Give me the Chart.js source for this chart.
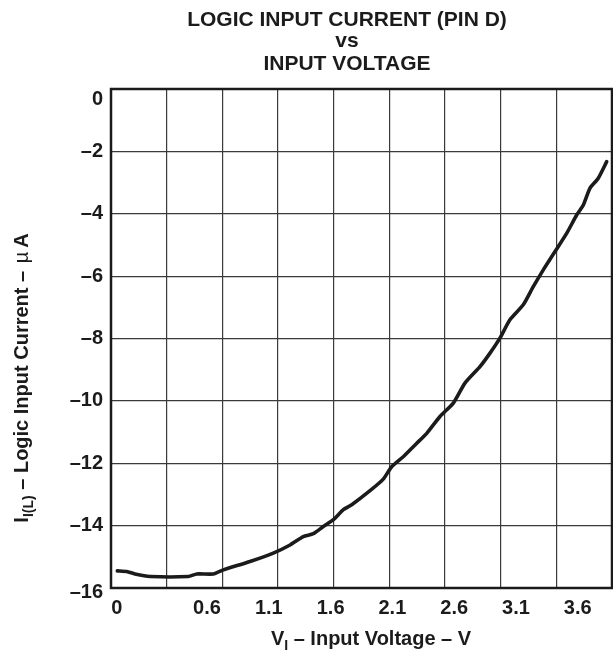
<!DOCTYPE html>
<html>
<head>
<meta charset="utf-8">
<script src="https://cdn.jsdelivr.net/npm/chart.js@4/dist/chart.umd.min.js"></script>
<style>
  html, body { margin: 0; padding: 0; background: #fff; }
  canvas { display: block; }
</style>
</head>
<body>
<canvas id="c" width="613" height="650"></canvas>
<script>
/* Logic input current (pin D) vs input voltage. */

// curve: V_I in volts, I_I(L) in microamps
var CURVE_V = [-0.126, -0.050, 0.017, 0.139, 0.449, 0.517, 0.651, 0.732, 0.948, 1.136,
  1.272, 1.379, 1.460, 1.541, 1.622, 1.703, 1.771, 1.919, 2.026, 2.094,
  2.188, 2.297, 2.378, 2.485, 2.593, 2.687, 2.809, 2.890, 2.970, 3.051,
  3.159, 3.240, 3.321, 3.416, 3.510, 3.591, 3.645, 3.699, 3.766, 3.834];
var CURVE_I = [-15.45, -15.47, -15.55, -15.63, -15.63, -15.55, -15.55, -15.42, -15.15, -14.88,
  -14.62, -14.35, -14.26, -14.03, -13.81, -13.49, -13.33, -12.88, -12.51, -12.11,
  -11.79, -11.36, -11.04, -10.50, -10.07, -9.43, -8.90, -8.47, -7.99, -7.40,
  -6.92, -6.34, -5.80, -5.21, -4.63, -4.04, -3.72, -3.18, -2.86, -2.33];

// x axis: the printed labels don't sit on the grid lines, so they get their own spots
var X_MIN = -0.177, X_MAX = 3.877, X_DIVS = 9;
var X_TICK_TEXT = ['0', '0.6', '1.1', '1.6', '2.1', '2.6', '3.1', '3.6'];
var X_TICK_AT = [-0.13, 0.6, 1.1, 1.6, 2.1, 2.6, 3.1, 3.6];

// y axis
var Y_MIN = -16, Y_MAX = 0, Y_STEP = 2;
var Y_TICK_TEXT = ['0', '\u20132', '\u20134', '\u20136', '\u20138', '\u201310', '\u201312', '\u201314', '\u201316'];
var Y_TICK_AT = [-0.33, -2, -4, -6, -8, -10, -12, -14, -16.14];

var TITLE = ['LOGIC INPUT CURRENT (PIN D)', 'vs', 'INPUT VOLTAGE'];

var FONT = "'Liberation Sans', Arial, Helvetica, sans-serif";
var INK = '#1b1b1b';
var GRID = '#3a3a3a';

/* grid lines and labels live on the same scale: grid ticks carry no text,
   label ticks carry no line */
function mixTicks(gridVals, labelAt, labelText) {
  var t = [];
  gridVals.forEach(function (v) { t.push({ value: v, txt: '', grid: true }); });
  labelAt.forEach(function (v, i) { t.push({ value: v, txt: labelText[i], grid: false }); });
  t.sort(function (a, b) { return a.value - b.value; });
  return t;
}

var xGrid = [], yGrid = [];
for (var k = 0; k <= X_DIVS; k++) xGrid.push(X_MIN + k * (X_MAX - X_MIN) / X_DIVS);
for (var v = Y_MIN; v <= Y_MAX; v += Y_STEP) yGrid.push(v);

function gridColor(ctx) { return ctx.tick && ctx.tick.grid ? GRID : 'rgba(0,0,0,0)'; }
function gridWidth(ctx) { return ctx.tick && ctx.tick.grid ? 1.2 : 0; }

// draw a run of text pieces (for the subscripts) centred on cx
function runText(g, pieces, cx, baseline) {
  var total = 0;
  pieces.forEach(function (p) { g.font = p.font; p.w = g.measureText(p.t).width; total += p.w + (p.gap || 0); });
  var x = cx - total / 2;
  pieces.forEach(function (p) {
    g.font = p.font;
    g.fillText(p.t, x, baseline + (p.dy || 0));
    x += p.w + (p.gap || 0);
  });
}

var frameAndText = {
  id: 'frameAndText',
  beforeDatasetsDraw: function (c) {
    var a = c.chartArea, g = c.ctx;
    g.save();
    g.strokeStyle = INK;
    g.lineWidth = 2.5;
    g.strokeRect(a.left, a.top, a.right - a.left, a.bottom - a.top);
    g.restore();
  },
  afterDraw: function (c) {
    var g = c.ctx;
    g.save();
    g.fillStyle = INK;
    g.textAlign = 'left';
    g.textBaseline = 'alphabetic';
    var B = 'bold 20px ' + FONT, S = 'bold 14px ' + FONT;

    // main title
    var ys = [26, 47, 69.5];
    TITLE.forEach(function (line, i) { runText(g, [{ t: line, font: 'bold 21px ' + FONT }], 347, ys[i]); });

    // x title
    runText(g, [
      { t: 'V', font: B },
      { t: 'I', font: S, dy: 5 },
      { t: ' \u2013 Input Voltage \u2013 V', font: B }
    ], 371, 645);

    // y title, rotated
    g.translate(28, 378);
    g.rotate(-Math.PI / 2);
    runText(g, [
      { t: 'I', font: B },
      { t: 'I(L)', font: S, dy: 5 },
      { t: ' \u2013 Logic Input Current \u2013 ', font: B, gap: 2 },
      { t: '\u00b5', font: '20px ' + FONT, gap: 4 },
      { t: 'A', font: B }
    ], 0, 0);
    g.restore();
  }
};

function noPad(s) { s.paddingLeft = 0; s.paddingRight = 0; s.paddingTop = 0; s.paddingBottom = 0; }

var points = CURVE_V.map(function (x, i) { return { x: x, y: CURVE_I[i] }; });

new Chart(document.getElementById('c'), {
  type: 'line',
  data: {
    datasets: [{
      data: points,
      borderColor: INK,
      borderWidth: 3.6,
      borderCapStyle: 'round',
      borderJoinStyle: 'round',
      pointRadius: 0,
      tension: 0.2,
      fill: false
    }]
  },
  options: {
    responsive: false,
    animation: false,
    layout: { padding: { top: 89, right: 1, left: 0, bottom: 0 } },
    plugins: { legend: { display: false }, tooltip: { enabled: false }, title: { display: false } },
    scales: {
      x: {
        type: 'linear',
        min: X_MIN,
        max: X_MAX,
        afterBuildTicks: function (s) { s.ticks = mixTicks(xGrid, X_TICK_AT, X_TICK_TEXT); },
        afterFit: function (s) { s.height = 62; noPad(s); },
        grid: { color: gridColor, lineWidth: gridWidth, drawTicks: false },
        border: { display: false },
        ticks: {
          autoSkip: false,
          maxRotation: 0,
          padding: 8,
          color: INK,
          font: { family: FONT, size: 20, weight: 'bold' },
          callback: function (val, i, ticks) { return ticks[i].txt; }
        }
      },
      y: {
        type: 'linear',
        min: Y_MIN,
        max: Y_MAX,
        afterBuildTicks: function (s) { s.ticks = mixTicks(yGrid, Y_TICK_AT, Y_TICK_TEXT); },
        afterFit: function (s) { s.width = 111; noPad(s); },
        grid: { color: gridColor, lineWidth: gridWidth, drawTicks: false },
        border: { display: false },
        ticks: {
          autoSkip: false,
          padding: 8,
          color: INK,
          font: { family: FONT, size: 20, weight: 'bold' },
          callback: function (val, i, ticks) { return ticks[i].txt; }
        }
      }
    }
  },
  plugins: [frameAndText]
});
</script>
</body>
</html>
